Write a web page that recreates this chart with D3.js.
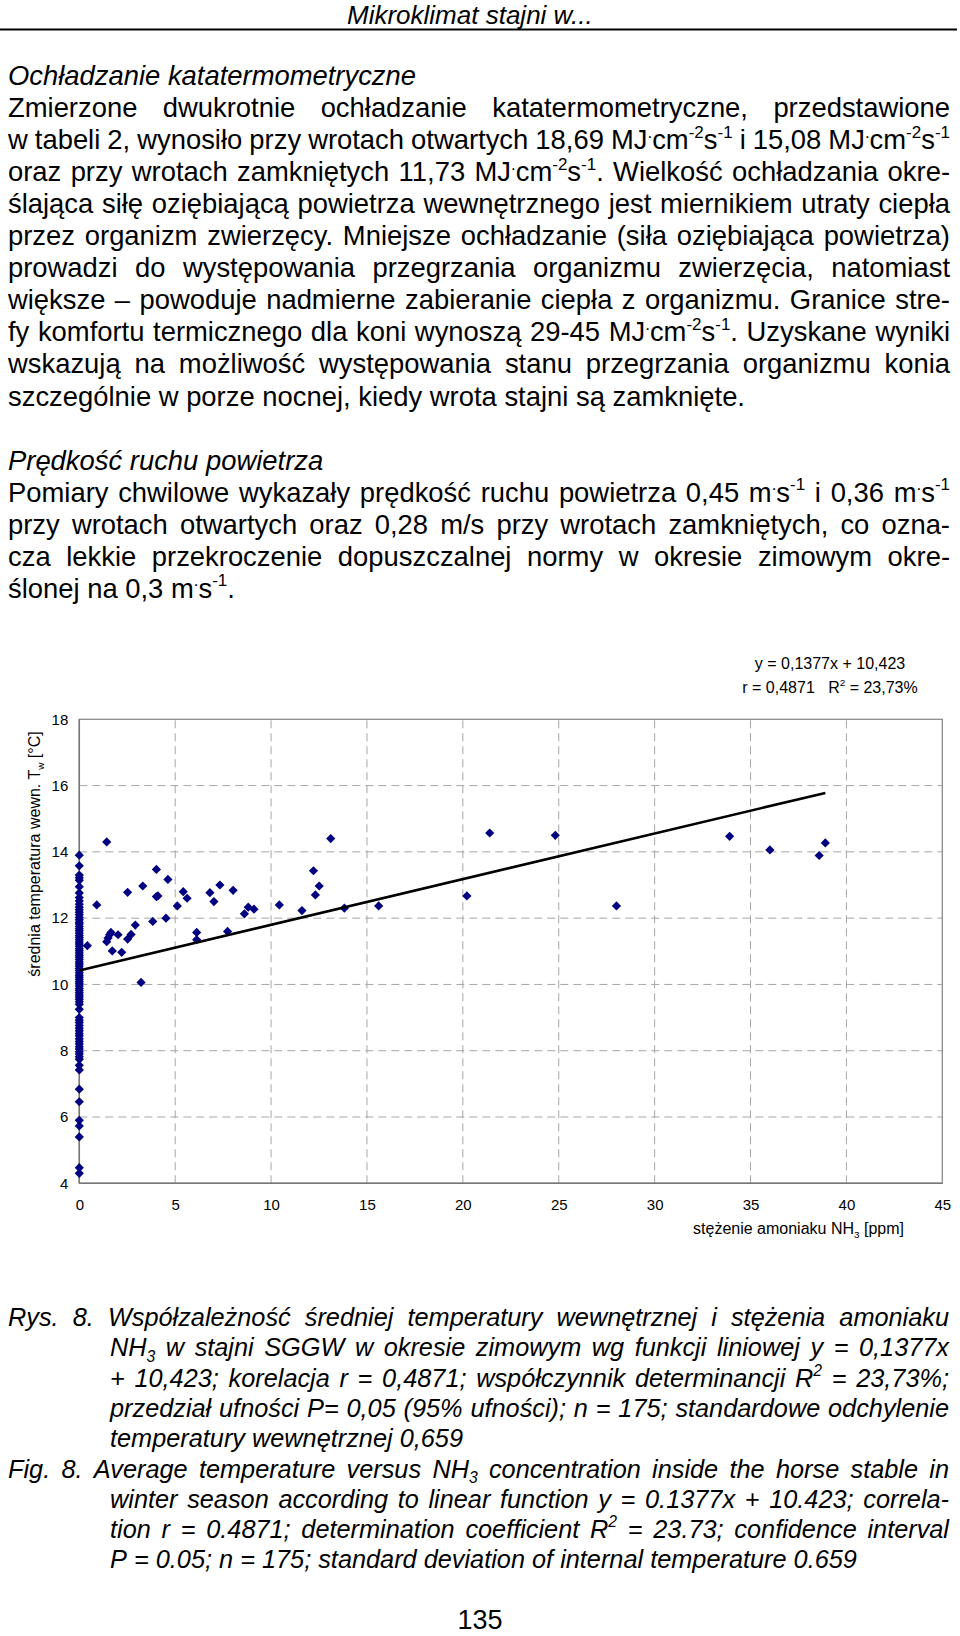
<!DOCTYPE html>
<html><head><meta charset="utf-8">
<script src="https://cdn.jsdelivr.net/npm/d3@7"></script>
<style>
body{margin:0;background:#fff;}
svg{display:block;font-family:"Liberation Sans",Arial,Helvetica,sans-serif;}
</style></head><body>
<svg id="page" width="960" height="1636"></svg>
<script>
// ---------------- DATA ----------------
// scattered points (NH3 > 0)
const nh3Values = [0.42,0.91,1.43,1.43,1.50,1.58,1.65,1.72,2.02,2.21,2.52,2.52,2.70,2.92,3.22,3.31,3.83,4.02,4.02,4.10,
  4.52,4.62,5.11,5.42,5.62,6.12,6.12,6.81,7.02,7.33,7.73,8.02,8.61,8.81,9.11,10.43,11.61,12.21,12.31,12.51,
  13.11,13.82,15.61,20.21,21.40,24.82,28.01,33.91,36.01,38.58,38.90];
const tempValues = [11.17,12.40,14.30,11.29,11.40,11.50,11.57,11.01,11.50,10.97,11.37,12.78,11.51,11.79,10.06,12.97,11.90,13.47,12.65,12.67,
  12.00,13.17,12.37,12.80,12.60,11.57,11.35,12.77,12.50,13.00,11.60,12.84,12.13,12.33,12.27,12.40,12.23,13.43,12.70,12.97,
  14.40,12.30,12.37,12.67,14.57,14.50,12.37,14.47,14.06,13.89,14.27];
// temperatures measured at NH3 = 0
const zeroNh3Temps = [13.90,13.58,13.30,13.22,13.14,12.95,12.76,12.62,12.52,12.42,12.33,12.25,12.18,12.10,12.02,11.95,11.88,11.82,11.75,11.68,
  11.62,11.55,11.48,11.42,11.35,11.28,11.22,11.15,11.08,11.02,10.95,10.88,10.82,10.75,10.68,10.62,10.55,10.48,10.42,10.35,
  10.28,10.22,10.15,10.08,10.02,9.95,9.88,9.82,9.75,9.68,9.62,9.55,9.48,9.40,9.25,9.00,8.92,8.85,8.76,8.68,
  8.60,8.52,8.45,8.36,8.28,8.20,8.12,8.05,7.97,7.90,7.82,7.74,7.56,7.42,6.84,6.46,5.90,5.73,5.40,4.47,4.30];
const trendSlope = 0.1377;
const trendIntercept = 10.423;
const xTickValues = [0,5,10,15,20,25,30,35,40,45];
const yTickValues = [4,6,8,10,12,14,16,18];

const headerText = "Mikroklimat stajni w...";
const bodyLines = [
  {t:"Ochładzanie katatermometryczne", it:true, j:false},
  {t:"Zmierzone dwukrotnie ochładzanie katatermometryczne, przedstawione", j:true},
  {t:"w tabeli 2, wynosiło przy wrotach otwartych 18,69 MJ^{.}cm^{-2}s^{-1} i 15,08 MJ^{.}cm^{-2}s^{-1}", j:true},
  {t:"oraz przy wrotach zamkniętych 11,73 MJ^{.}cm^{-2}s^{-1}. Wielkość ochładzania okre-", j:true},
  {t:"ślająca siłę oziębiającą powietrza wewnętrznego jest miernikiem utraty ciepła", j:true},
  {t:"przez organizm zwierzęcy. Mniejsze ochładzanie (siła oziębiająca powietrza)", j:true},
  {t:"prowadzi do występowania przegrzania organizmu zwierzęcia, natomiast", j:true},
  {t:"większe – powoduje nadmierne zabieranie ciepła z organizmu. Granice stre-", j:true},
  {t:"fy komfortu termicznego dla koni wynoszą 29-45 MJ^{.}cm^{-2}s^{-1}. Uzyskane wyniki", j:true},
  {t:"wskazują na możliwość występowania stanu przegrzania organizmu konia", j:true},
  {t:"szczególnie w porze nocnej, kiedy wrota stajni są zamknięte.", j:false},
  null,
  {t:"Prędkość ruchu powietrza", it:true, j:false},
  {t:"Pomiary chwilowe wykazały prędkość ruchu powietrza 0,45 m^{.}s^{-1} i 0,36 m^{.}s^{-1}", j:true},
  {t:"przy wrotach otwartych oraz 0,28 m/s przy wrotach zamkniętych, co ozna-", j:true},
  {t:"cza lekkie przekroczenie dopuszczalnej normy w okresie zimowym okre-", j:true},
  {t:"ślonej na 0,3 m^{.}s^{-1}.", j:false}
];
const captionLines = [
  {t:"Rys. 8. Współzależność średniej temperatury wewnętrznej i stężenia amoniaku", ind:false, j:true},
  {t:"NH_{3} w stajni SGGW w okresie zimowym wg funkcji liniowej y = 0,1377x", ind:true, j:true},
  {t:"+ 10,423; korelacja r = 0,4871; współczynnik determinancji R^{2} = 23,73%;", ind:true, j:true},
  {t:"przedział ufności P= 0,05 (95% ufności); n = 175; standardowe odchylenie", ind:true, j:true},
  {t:"temperatury wewnętrznej 0,659", ind:true, j:false},
  {t:"Fig. 8. Average temperature versus NH_{3} concentration inside the horse stable in", ind:false, j:true},
  {t:"winter season according to linear function y = 0.1377x + 10.423; correla-", ind:true, j:true},
  {t:"tion r = 0.4871; determination coefficient R^{2} = 23.73; confidence interval", ind:true, j:true},
  {t:"P = 0.05; n = 175; standard deviation of internal temperature 0.659", ind:true, j:false}
];
const eqLine1 = "y = 0,1377x + 10,423";
const eqLine2 = "r = 0,4871   R^{2} = 23,73%";
const xTitle = "stężenie amoniaku NH_{3} [ppm]";
const yTitle = "średnia temperatura wewn. T_{w} [°C]";
const pageNumber = "135";

// ---------------- TEXT HELPERS ----------------
const svg = d3.select("#page");
function parseSegs(w){
  const segs=[]; const re=/(\^\{[^}]*\}|_\{[^}]*\})/g; let last=0, m;
  while((m=re.exec(w))){
    if(m.index>last) segs.push({t:w.slice(last,m.index),k:'n'});
    segs.push({t:m[0].slice(2,-1),k:m[0][0]==='^'?'sup':'sub'});
    last=re.lastIndex;
  }
  if(last<w.length) segs.push({t:w.slice(last),k:'n'});
  return segs;
}
function shiftFor(k,fs){ return k==='sup'? -0.42*fs : (k==='sub'? 0.22*fs : 0); }
function appendSegs(textSel, segs, fs, state, firstX){
  segs.forEach((s,i)=>{
    const target=shiftFor(s.k,fs);
    const ts=textSel.append('tspan').text(s.t).attr('dy', target-state.off);
    if(i===0 && firstX!==undefined) ts.attr('x', firstX);
    if(s.k!=='n') ts.attr('font-size', fs*0.62);
    state.off=target;
  });
}
function measureWord(g, segs, fs, italic){
  const t=g.append('text').attr('font-size',fs).attr('font-style',italic?'italic':'normal');
  appendSegs(t, segs, fs, {off:0});
  const w=t.node().getComputedTextLength(); t.remove(); return w;
}
function drawLine(g, line, x0, x1, y, fs, italic, justify){
  const words=line.split(' ').filter(w=>w.length).map(parseSegs);
  const widths=words.map(w=>measureWord(g,w,fs,italic));
  let gap=0.278*fs;
  if(justify && words.length>1) gap=(x1-x0-d3.sum(widths))/(words.length-1);
  const t=g.append('text').attr('y',y).attr('font-size',fs).attr('font-style',italic?'italic':'normal').attr('fill','#000');
  const st={off:0}; let x=x0;
  words.forEach((w,i)=>{
    const segs=w.map(s=>({...s}));
    if(i<words.length-1) segs[segs.length-1].t+=' ';
    appendSegs(t, segs, fs, st, x);
    x+=widths[i]+gap;
  });
  return t;
}
function richText(g, str, x, y, fs, anchor, italic){
  const t=g.append('text').attr('x',x).attr('y',y).attr('font-size',fs)
    .attr('text-anchor',anchor||'start').attr('font-style',italic?'italic':'normal')
    .style('white-space','pre').attr('fill','#000');
  appendSegs(t, parseSegs(str), fs, {off:0});
  return t;
}

// ---------------- PAGE TEXT ----------------
const txt = svg.append('g');
richText(txt, headerText, 347, 24, 26, 'start', true);
txt.append('line').attr('x1',0).attr('x2',957).attr('y1',29.5).attr('y2',29.5).attr('stroke','#000').attr('stroke-width',2);

const bodyFs=27.4, bodyX0=8, bodyX1=950, bodyY0=85, bodyStep=32.05;
bodyLines.forEach((l,i)=>{
  if(!l) return;
  drawLine(txt, l.t, bodyX0, bodyX1, bodyY0+i*bodyStep, bodyFs, !!l.it, l.j);
});
const capFs=25.3, capY0=1326, capStep=30.3;
captionLines.forEach((l,i)=>{
  drawLine(txt, l.t, l.ind?110:8, 949, capY0+i*capStep, capFs, true, l.j);
});
richText(txt, pageNumber, 480, 1629, 27, 'middle', false);

// ---------------- CHART ----------------
const chart = svg.append('g');
const x = d3.scaleLinear().domain([0,45]).range([79.3,942.3]);
const y = d3.scaleLinear().domain([4,18]).range([1183.3,719.3]);

// grid
chart.append('g').selectAll('line').data(xTickValues.filter(v=>v>0&&v<45)).join('line')
  .attr('x1',d=>x(d)).attr('x2',d=>x(d)).attr('y1',y(4)).attr('y2',y(18))
  .attr('stroke','#a6a6a6').attr('stroke-width',1).attr('stroke-dasharray','8,5');
chart.append('g').selectAll('line').data(yTickValues.filter(v=>v>4&&v<18)).join('line')
  .attr('y1',d=>y(d)).attr('y2',d=>y(d)).attr('x1',x(0)).attr('x2',x(45))
  .attr('stroke','#a6a6a6').attr('stroke-width',1).attr('stroke-dasharray','8,5');
// frame
chart.append('rect').attr('x',x(0)).attr('y',y(18)).attr('width',x(45)-x(0)).attr('height',y(4)-y(18))
  .attr('fill','none').attr('stroke','#8c8c8c').attr('stroke-width',1.3);
chart.append('line').attr('x1',x(0)).attr('x2',x(0)).attr('y1',y(18)).attr('y2',y(4)).attr('stroke','#777').attr('stroke-width',1.5);
chart.append('line').attr('x1',x(0)).attr('x2',x(45)).attr('y1',y(4)).attr('y2',y(4)).attr('stroke','#777').attr('stroke-width',1.5);

// axes
const xAxis = chart.append('g').attr('transform',`translate(0,${y(4)})`)
  .call(d3.axisBottom(x).tickValues(xTickValues).tickSize(0).tickPadding(16).tickFormat(d3.format('d')));
const yAxis = chart.append('g').attr('transform',`translate(${x(0)},0)`)
  .call(d3.axisLeft(y).tickValues(yTickValues).tickSize(0).tickPadding(11).tickFormat(d3.format('d')));
[xAxis,yAxis].forEach(a=>{
  a.select('.domain').remove();
  a.selectAll('text').attr('font-size',15).attr('fill','#000').attr('font-family','"Liberation Sans",Arial,sans-serif');
});

// points
const points = nh3Values.map((v,i)=>({x:v,y:tempValues[i]}))
  .concat(zeroNh3Temps.map(t=>({x:0,y:t})));
const diamond = d3.symbol().type(d3.symbolDiamond2).size(54);
chart.append('g').selectAll('path').data(points).join('path')
  .attr('d',diamond).attr('transform',d=>`translate(${x(d.x)},${y(d.y)})`)
  .attr('fill','#000080');

// trend line
const xMax = d3.max(nh3Values);
chart.append('path').datum([0,xMax])
  .attr('d',d3.line().x(d=>x(d)).y(d=>y(trendIntercept+trendSlope*d)))
  .attr('stroke','#000').attr('stroke-width',2.6).attr('fill','none');

// labels
richText(chart, eqLine1, 830, 669, 16, 'middle');
richText(chart, eqLine2, 830, 693, 16, 'middle');
richText(chart, xTitle, 904, 1234, 16, 'end');
const yt = chart.append('g').attr('transform','translate(40,854) rotate(-90)');
richText(yt, yTitle, 0, 0, 16, 'middle');
</script>
</body></html>
